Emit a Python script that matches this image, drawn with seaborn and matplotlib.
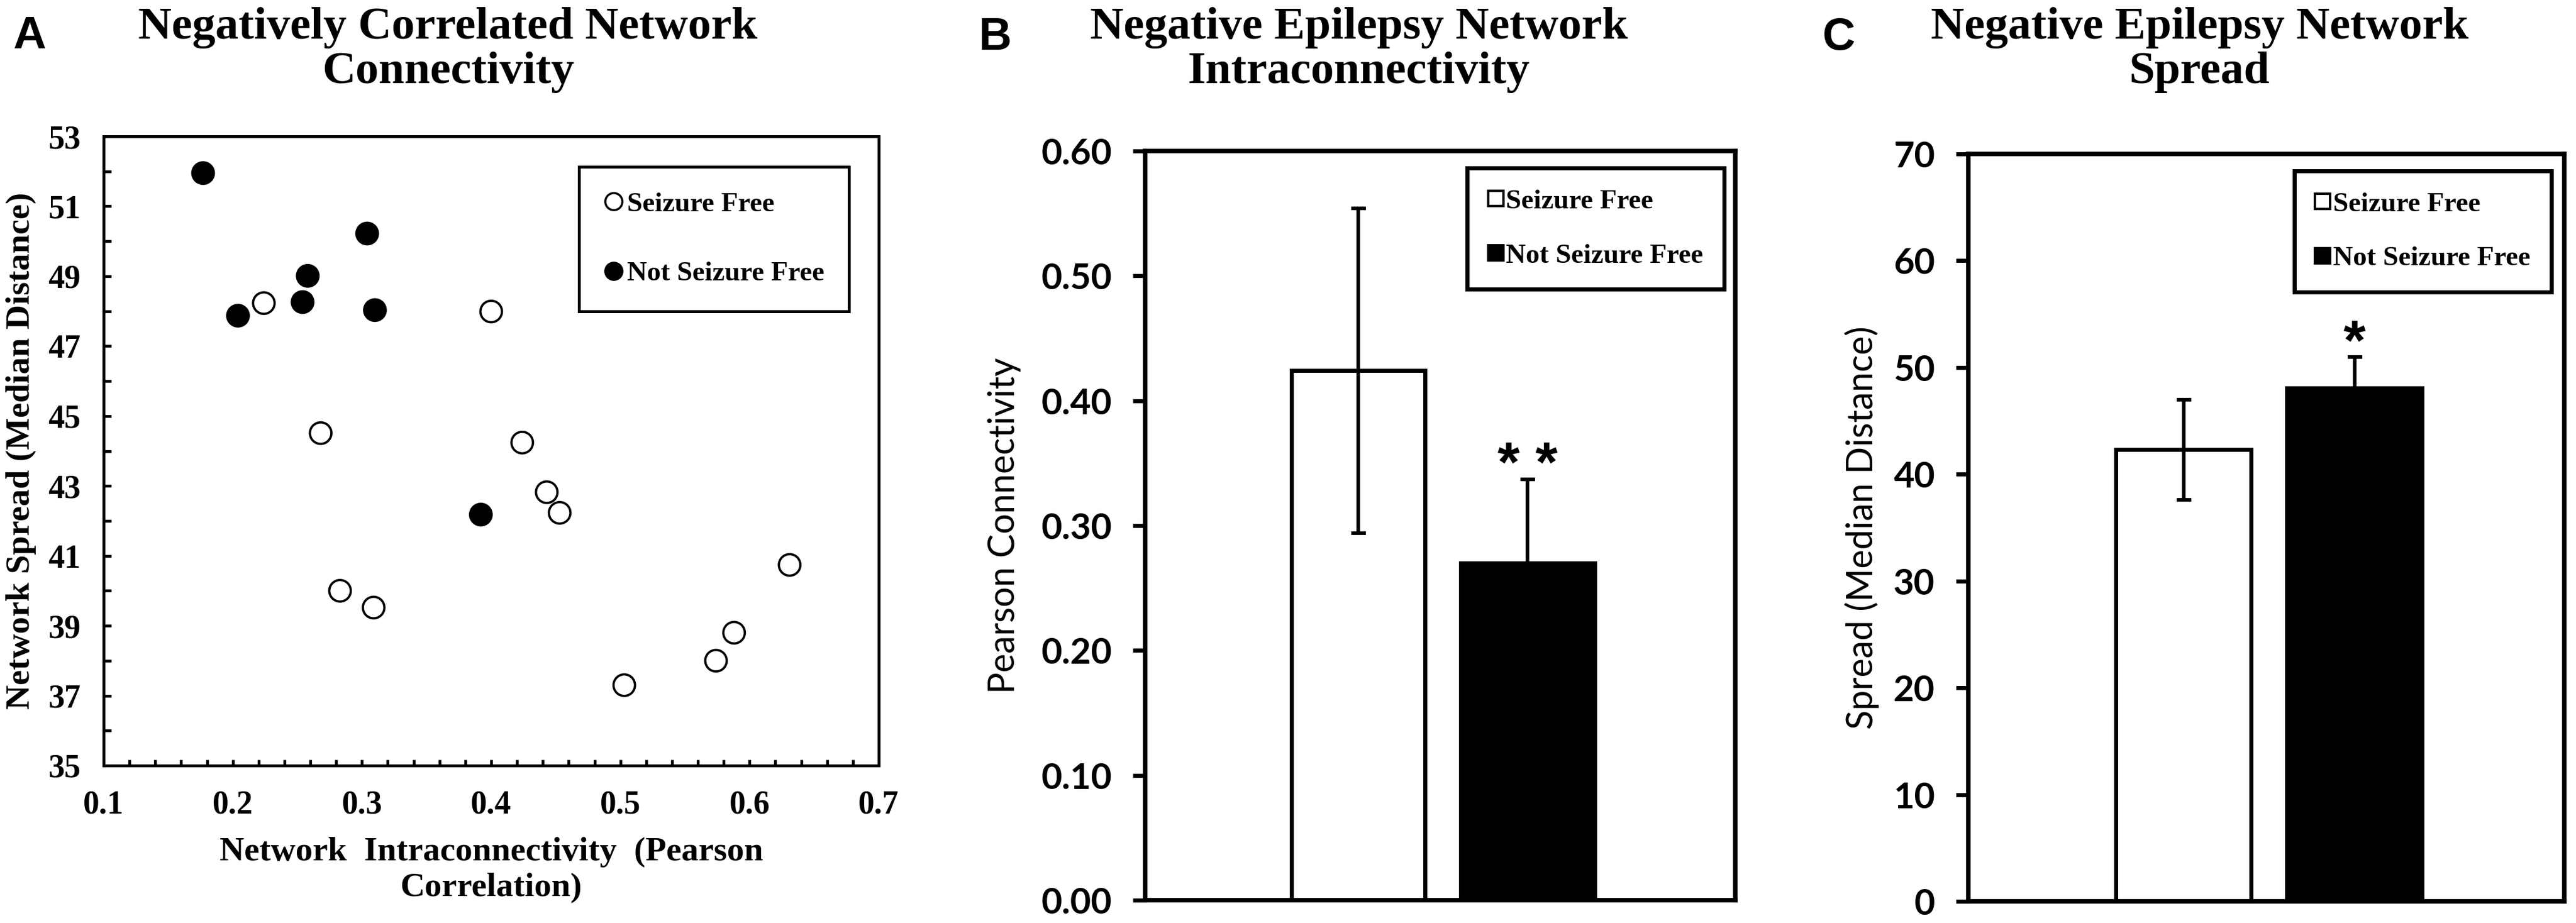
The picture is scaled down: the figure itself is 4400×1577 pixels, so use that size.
import matplotlib
matplotlib.use('Agg')
import matplotlib.pyplot as plt
from matplotlib.lines import Line2D
from matplotlib.ticker import MultipleLocator, FixedLocator, FormatStrFormatter
import seaborn as sns
import pandas as pd
import numpy as np

# ---------------- data ----------------
# Panel A: Negatively correlated network connectivity
sf_x = [0.224, 0.400, 0.268, 0.424, 0.443, 0.453, 0.631, 0.283, 0.309, 0.588, 0.574, 0.503]
sf_y = [48.23, 47.99, 44.51, 44.24, 42.82, 42.23, 40.74, 40.00, 39.52, 38.80, 38.00, 37.30]
nsf_x = [0.177, 0.304, 0.258, 0.254, 0.204, 0.310, 0.392]
nsf_y = [51.95, 50.22, 49.01, 48.26, 47.87, 48.03, 42.18]
a_yticks = [35, 37, 39, 41, 43, 45, 47, 49, 51, 53]
a_xticks = [0.1, 0.2, 0.3, 0.4, 0.5, 0.6, 0.7]

groups = ['Seizure Free', 'Not Seizure Free']
# Panel B: intraconnectivity (Pearson)
conn_mean = [0.424, 0.270]
conn_err = [0.130, 0.067]
conn_sig = ['', '* *']
# Panel C: spread (median distance)
spread_mean = [42.3, 48.1]
spread_err = [4.7, 2.9]
spread_sig = ['', '*']

# ---------------- style ----------------
sns.set_theme(style='white')
SERIF = ['Liberation Serif', 'DejaVu Serif']
SANS = ['Lato', 'DejaVu Sans']
LETTER = ['Liberation Sans', 'DejaVu Sans']
plt.rcParams['font.family'] = SERIF
plt.rcParams['text.color'] = 'black'
plt.rcParams['axes.labelcolor'] = 'black'
plt.rcParams['xtick.color'] = 'black'
plt.rcParams['ytick.color'] = 'black'

W, H = 4400, 1577
DPI = 100
fig = plt.figure(figsize=(W / DPI, H / DPI), dpi=DPI)
fig.patch.set_facecolor('white')


def ax_rect(l, t, r, b):
    return [l / W, 1 - b / H, (r - l) / W, (b - t) / H]


axA = fig.add_axes(ax_rect(177, 233, 1501, 1308))
axB = fig.add_axes(ax_rect(1956, 258, 2964, 1538))
axC = fig.add_axes(ax_rect(3362, 263, 4380, 1540))

# ---------------- Panel A ----------------
dfA = pd.DataFrame({
    'x': sf_x + nsf_x,
    'y': sf_y + nsf_y,
    'group': [groups[0]] * len(sf_x) + [groups[1]] * len(nsf_x),
})
sns.scatterplot(data=dfA, x='x', y='y', hue='group',
                palette={groups[0]: 'white', groups[1]: 'black'},
                edgecolor='black', linewidth=2.8, s=700, ax=axA,
                legend=False, zorder=3, clip_on=False)
axA.set_xlim(0.1, 0.7)
axA.set_ylim(35, 53)
axA.xaxis.set_major_locator(FixedLocator(a_xticks))
axA.xaxis.set_minor_locator(MultipleLocator(0.02))
axA.yaxis.set_major_locator(FixedLocator(a_yticks))
axA.yaxis.set_minor_locator(MultipleLocator(1))
axA.xaxis.set_major_formatter(FormatStrFormatter('%.1f'))
axA.yaxis.set_major_formatter(FormatStrFormatter('%d'))
axA.tick_params(axis='both', which='both', direction='in', width=3.4,
                top=False, right=False, bottom=True, left=True)
axA.tick_params(axis='x', which='major', length=7, pad=30, labelsize=40)
axA.tick_params(axis='x', which='minor', length=7)
axA.tick_params(axis='y', which='both', length=9, pad=28, labelsize=40)
for lab in axA.get_xticklabels() + axA.get_yticklabels():
    lab.set_fontweight('bold')
    lab.set_family(SERIF)
for sp in axA.spines.values():
    sp.set_visible(True)
    sp.set_color('black')
    sp.set_linewidth(3.6)
axA.set_xlabel('Network  Intraconnectivity  (Pearson\nCorrelation)',
               fontsize=42, fontweight='bold', labelpad=20, linespacing=1.22)
axA.set_ylabel('Network Spread (Median Distance)', fontsize=42,
               fontweight='bold')
axA.yaxis.set_label_coords(-0.087, 0.5)
hA = [Line2D([], [], ls='', marker='o', markersize=21, markerfacecolor='white',
             markeredgecolor='black', markeredgewidth=2.6),
      Line2D([], [], ls='', marker='o', markersize=21, markerfacecolor='black',
             markeredgecolor='black', markeredgewidth=2.6)]
legA = axA.legend(hA, groups, loc='upper right', bbox_to_anchor=(0.9615, 0.9516),
                  prop={'family': SERIF, 'weight': 'bold', 'size': 34},
                  frameon=True, fancybox=False, framealpha=1, edgecolor='black',
                  borderpad=0.9, labelspacing=1.6, handlelength=0.7,
                  handletextpad=0.12, borderaxespad=0)
legA.get_frame().set_linewidth(3.6)


# ---------------- Panels B & C ----------------
def bar_panel(ax, means, errs, sigs, ylim, step, fmt, ylabel, label_x, anchor):
    sns.barplot(x=groups, y=means, hue=groups, palette=['white', 'black'],
                edgecolor='black', linewidth=5.0, width=0.79, ax=ax, legend=False,
                saturation=1)
    pos = np.arange(len(groups))
    ax.errorbar(pos, means, yerr=errs, fmt='none', ecolor='black',
                elinewidth=4.5, capsize=9, capthick=4.5, zorder=5)
    for p, m, e, s in zip(pos, means, errs, sigs):
        if s:
            ax.annotate(s, xy=(p, m + e), xytext=(0, -3), textcoords='offset points',
                        ha='center', va='baseline', fontsize=70,
                        fontweight='bold', family=LETTER)
    ax.set_xlim(-1.258, 2.226)
    ax.set_ylim(*ylim)
    ax.yaxis.set_major_locator(MultipleLocator(step))
    ax.yaxis.set_major_formatter(FormatStrFormatter(fmt))
    ax.set_xticks([])
    ax.set_xlabel('')
    ax.tick_params(axis='y', which='major', direction='out', length=15,
                   width=5.0, pad=26, labelsize=44, left=True)
    for lab in ax.get_yticklabels():
        lab.set_fontweight('bold')
        lab.set_family(SANS)
    for sp in ax.spines.values():
        sp.set_visible(True)
        sp.set_color('black')
        sp.set_linewidth(5.5)
    ax.set_ylabel(ylabel, fontsize=44, family=SANS)
    ax.yaxis.set_label_coords(label_x, 0.5)
    h = [Line2D([], [], ls='', marker='s', markersize=19, markerfacecolor='white',
                markeredgecolor='black', markeredgewidth=3),
         Line2D([], [], ls='', marker='s', markersize=19, markerfacecolor='black',
                markeredgecolor='black', markeredgewidth=3)]
    leg = ax.legend(h, groups, loc='upper right', bbox_to_anchor=anchor,
                    prop={'family': SERIF, 'weight': 'bold', 'size': 34},
                    frameon=True, fancybox=False, framealpha=1, edgecolor='black',
                    borderpad=0.75, labelspacing=1.05, handlelength=0.55,
                    handletextpad=0.1, borderaxespad=0)
    leg.get_frame().set_linewidth(5.0)


bar_panel(axB, conn_mean, conn_err, conn_sig, (0, 0.6), 0.1, '%.2f',
          'Pearson Connectivity', -0.21, (0.981, 0.977))
bar_panel(axC, spread_mean, spread_err, spread_sig, (0, 70), 10, '%d',
          'Spread (Median Distance)', -0.149, (0.978, 0.977))

# ---------------- titles & panel letters ----------------
title_kw = dict(fontsize=57, fontweight='bold', family=SERIF, ha='center',
                va='top', linespacing=1.1)
fig.text(765 / W, 1 - 12 / H, 'Negatively Correlated Network\nConnectivity', **title_kw)
fig.text(2321 / W, 1 - 12 / H, 'Negative Epilepsy Network\nIntraconnectivity', **title_kw)
fig.text(3757 / W, 1 - 12 / H, 'Negative Epilepsy Network\nSpread', **title_kw)

letter_kw = dict(fontsize=56, fontweight='bold', family=LETTER, ha='left', va='top')
fig.text(22 / W, 1 - 25 / H, 'A', **letter_kw)
fig.text(1672 / W, 1 - 28 / H, 'B', **letter_kw)
fig.text(3113 / W, 1 - 28 / H, 'C', **letter_kw)

fig.savefig('out.png', dpi=DPI, facecolor='white')
